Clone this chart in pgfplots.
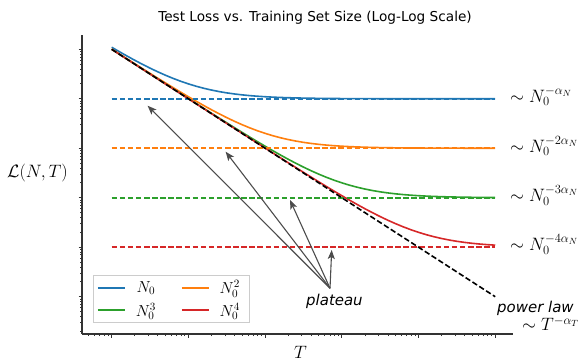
\documentclass[border=0pt]{standalone}
\usepackage{fix-cm}
\usepackage{pgfplots}
\pgfplotsset{compat=1.18}
\usepackage{pgfplotstable}
\usepackage[no-math]{fontspec}
\setmainfont{DejaVu Sans}
\usetikzlibrary{arrows.meta}
\definecolor{tblue}{HTML}{1F77B4}
\definecolor{torange}{HTML}{FF7F0E}
\definecolor{tgreen}{HTML}{2CA02C}
\definecolor{tred}{HTML}{D62728}
\pgfplotstableread{
T b o g r
1 1.1 1.01 1.001 1.0001
1.25893 0.894328 0.804328 0.795328 0.794428
1.58489 0.730957 0.640957 0.631957 0.631057
1.99526 0.601187 0.511187 0.502187 0.501287
2.51189 0.498107 0.408107 0.399107 0.398207
3.16228 0.416228 0.326228 0.317228 0.316328
3.98107 0.351189 0.261189 0.252189 0.251289
5.01187 0.299526 0.209526 0.200526 0.199626
6.30957 0.258489 0.168489 0.159489 0.158589
7.94328 0.225893 0.135893 0.126893 0.125993
10 0.2 0.11 0.101 0.1001
12.5893 0.179433 0.0894328 0.0804328 0.0795328
15.8489 0.163096 0.0730957 0.0640957 0.0631957
19.9526 0.150119 0.0601187 0.0511187 0.0502187
25.1189 0.139811 0.0498107 0.0408107 0.0399107
31.6228 0.131623 0.0416228 0.0326228 0.0317228
39.8107 0.125119 0.0351189 0.0261189 0.0252189
50.1187 0.119953 0.0299526 0.0209526 0.0200526
63.0957 0.115849 0.0258489 0.0168489 0.0159489
79.4328 0.112589 0.0225893 0.0135893 0.0126893
100 0.11 0.02 0.011 0.0101
125.893 0.107943 0.0179433 0.00894328 0.00804328
158.489 0.106310 0.0163096 0.00730957 0.00640957
199.526 0.105012 0.0150119 0.00601187 0.00511187
251.189 0.103981 0.0139811 0.00498107 0.00408107
316.228 0.103162 0.0131623 0.00416228 0.00326228
398.107 0.102512 0.0125119 0.00351189 0.00261189
501.187 0.101995 0.0119953 0.00299526 0.00209526
630.957 0.101585 0.0115849 0.00258489 0.00168489
794.328 0.101259 0.0112589 0.00225893 0.00135893
1000 0.1010 0.011 0.002 0.0011
1258.93 0.100794 0.0107943 0.00179433 0.000894328
1584.89 0.100631 0.0106310 0.00163096 0.000730957
1995.26 0.100501 0.0105012 0.00150119 0.000601187
2511.89 0.100398 0.0103981 0.00139811 0.000498107
3162.28 0.100316 0.0103162 0.00131623 0.000416228
3981.07 0.100251 0.0102512 0.00125119 0.000351189
5011.87 0.100200 0.0101995 0.00119953 0.000299526
6309.57 0.100158 0.0101585 0.00115849 0.000258489
7943.28 0.100126 0.0101259 0.00112589 0.000225893
10000 0.1001 0.0101 0.0011 0.0002
12589.3 0.100079 0.0100794 0.00107943 0.000179433
15848.9 0.100063 0.0100631 0.00106310 0.000163096
19952.6 0.100050 0.0100501 0.00105012 0.000150119
25118.9 0.100040 0.0100398 0.00103981 0.000139811
31622.8 0.100032 0.0100316 0.00103162 0.000131623
39810.7 0.100025 0.0100251 0.00102512 0.000125119
50118.7 0.100020 0.0100200 0.00101995 0.000119953
63095.7 0.100016 0.0100158 0.00101585 0.000115849
79432.8 0.100013 0.0100126 0.00101259 0.000112589
100000 0.10001 0.01001 0.00101 0.00011
}\curves
\begin{document}
\begin{tikzpicture}[x=1bp,y=1bp]
\path[use as bounding box] (0,0) rectangle (581,361);
\begin{axis}[
  at={(82bp,27bp)}, anchor=south west,
  scale only axis, width=431bp, height=299bp,
  xmode=log, ymode=log,
  xmin=0.4102, xmax=170600, ymin=1.762e-6, ymax=1.945,
  axis x line*=bottom, axis y line*=left,
  axis line style={black!80, line width=1.1bp},
  tick style={black!80, line width=0.8bp},
  major tick length=3.5bp, minor tick length=2bp,
  tick align=outside,
  xticklabels={}, yticklabels={},
  clip=false,
  legend columns=2,
  legend style={
    at={(0.0255,0.0378)}, anchor=south west,
    draw=black!20, fill=white,
    font=\fontsize{16}{19}\selectfont,
    inner xsep=4bp, inner ysep=1bp,
    nodes={inner ysep=4bp, inner xsep=5bp},
    /tikz/every even column/.append style={column sep=20bp},
  },
  legend image code/.code={\draw[#1] (0bp,0bp) -- (27bp,0bp); \path (32bp,0bp);},
]
\addplot[tblue, line width=1.6bp] table[x=T,y=b] {\curves};
\addlegendentry{$N_0$}
\addplot[torange, line width=1.6bp] table[x=T,y=o] {\curves};
\addlegendentry{$N_0^2$}
\addplot[tgreen, line width=1.6bp] table[x=T,y=g] {\curves};
\addlegendentry{$N_0^3$}
\addplot[tred, line width=1.6bp] table[x=T,y=r] {\curves};
\addlegendentry{$N_0^4$}
\addplot[forget plot, tblue, line width=1.6bp, dash pattern=on 5.5bp off 2.6bp] coordinates {(1,0.1) (100000,0.1)};
\addplot[forget plot, torange, line width=1.6bp, dash pattern=on 5.5bp off 2.6bp] coordinates {(1,0.01) (100000,0.01)};
\addplot[forget plot, tgreen, line width=1.6bp, dash pattern=on 5.5bp off 2.6bp] coordinates {(1,0.001) (100000,0.001)};
\addplot[forget plot, tred, line width=1.6bp, dash pattern=on 5.5bp off 2.6bp] coordinates {(1,0.0001) (100000,0.0001)};
\addplot[forget plot, black, line width=1.6bp, dash pattern=on 5.5bp off 2.6bp] coordinates {(1,1) (100000,0.00001)};
\begin{scope}[black!70, line width=1.1bp, -{Stealth[length=9bp,width=7bp,inset=2bp]}]
\draw (axis cs:702,1.479e-5) -- (axis cs:2.94,0.0724);
\draw (axis cs:702,1.479e-5) -- (axis cs:30.6,0.00852);
\draw (axis cs:702,1.479e-5) -- (axis cs:211.2,9.0e-4);
\draw (axis cs:702,1.479e-5) -- (axis cs:738,8.79e-5);
\end{scope}
\end{axis}
\node[anchor=base, font=\fontsize{13.7}{16}\selectfont, inner sep=0] at (315,340) {Test Loss vs. Training Set Size (Log-Log Scale)};
\node[font=\fontsize{18}{22}\selectfont, inner sep=0] at (37.5,187.5) {$\mathcal{L}(N,T)$};
\node[font=\fontsize{18}{22}\selectfont, inner sep=0] at (300.5,9) {$T$};
\node[anchor=base west, font=\fontsize{18}{22}\selectfont, inner sep=0] at (510,258.7) {$\sim N_0^{-\alpha_N}$};
\node[anchor=base west, font=\fontsize{18}{22}\selectfont, inner sep=0] at (510,208.7) {$\sim N_0^{-2\alpha_N}$};
\node[anchor=base west, font=\fontsize{18}{22}\selectfont, inner sep=0] at (510,159.3) {$\sim N_0^{-3\alpha_N}$};
\node[anchor=base west, font=\fontsize{18}{22}\selectfont, inner sep=0] at (510,110.3) {$\sim N_0^{-4\alpha_N}$};
\node[anchor=base west, font=\fontsize{18}{22}\selectfont, inner sep=0] at (522,30.3) {$\sim T^{-\alpha_T}$};
\node[anchor=base west, font=\fontsize{15}{18}\selectfont\itshape, inner sep=0] at (497,48.7) {power law};
\node[anchor=base west, font=\fontsize{15}{18}\selectfont\itshape, inner sep=0] at (306,56) {plateau};
\end{tikzpicture}
\end{document}
